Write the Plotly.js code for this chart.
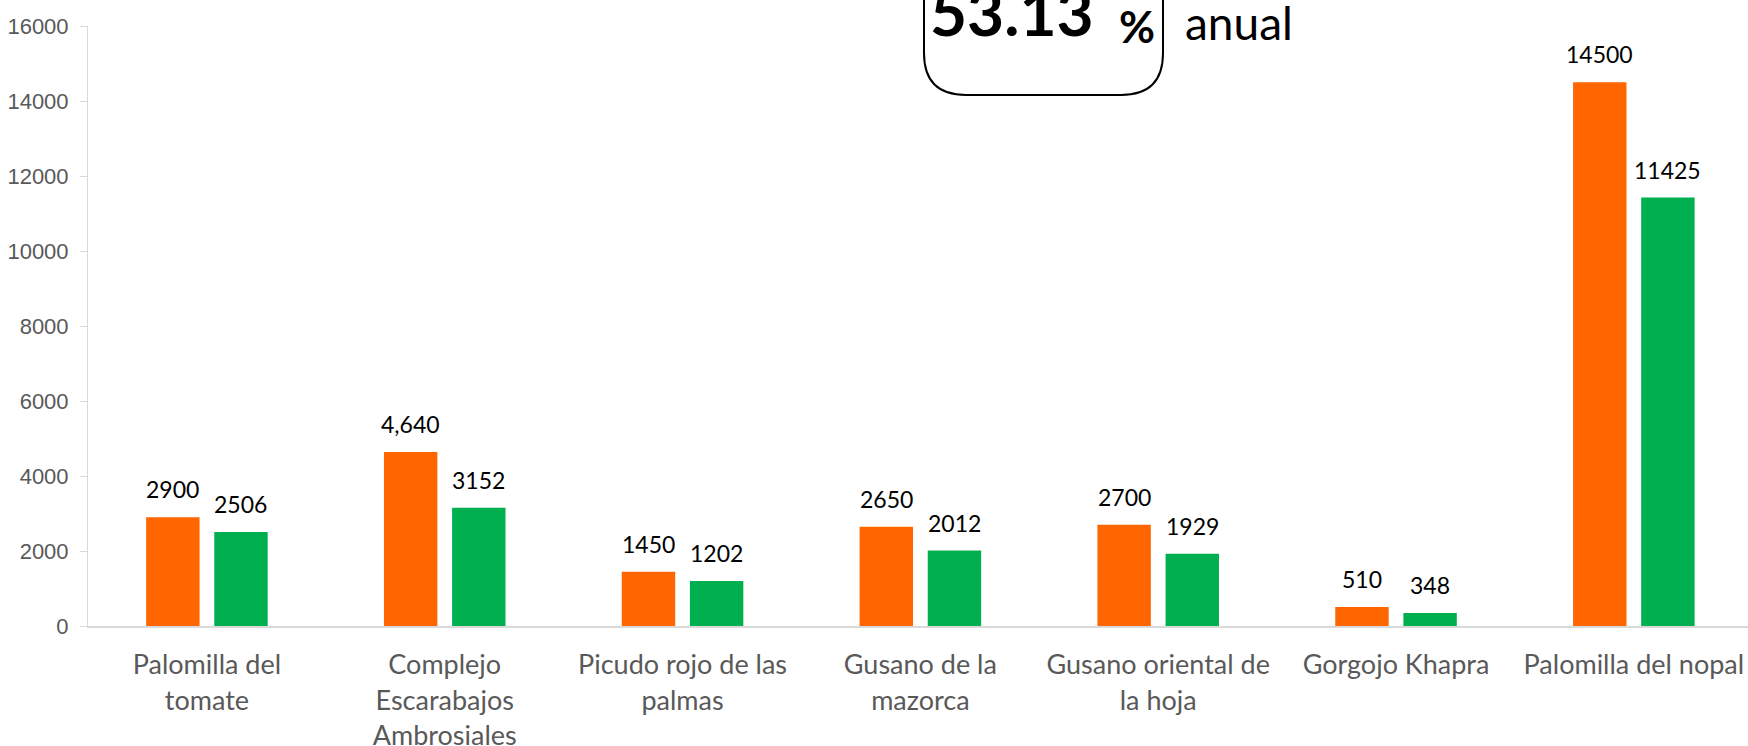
<!DOCTYPE html>
<html>
<head>
<meta charset="utf-8">
<script src="https://cdn.plot.ly/plotly-3.0.1.min.js"></script>
<style>
  html, body { margin: 0; padding: 0; background: #fff; overflow: hidden; }
  #plot { width: 1748px; height: 746px; }
</style>
</head>
<body>
<div id="plot"></div>
<script>
// categories and values
const categories = [
  'Palomilla del<br>tomate',
  'Complejo<br>Escarabajos<br>Ambrosiales',
  'Picudo rojo de las<br>palmas',
  'Gusano de la<br>mazorca',
  'Gusano oriental de<br>la hoja',
  'Gorgojo Khapra',
  'Palomilla del nopal'
];
const orangeValues = [2900, 4640, 1450, 2650, 2700, 510, 14500];
const greenValues = [2506, 3152, 1202, 2012, 1929, 348, 11425];
const orangeLabels = ['2900', '4,640', '1450', '2650', '2700', '510', '14500'];
const greenLabels = ['2506', '3152', '1202', '2012', '1929', '348', '11425'];
const yTicks = [0, 2000, 4000, 6000, 8000, 10000, 12000, 14000, 16000];
const yTickText = ['0', '2000', '4000', '6000', '8000', '10000', '12000', '14000', '16000'];

//------------------------------------------------------------------------------

const W = 1748, H = 746;
const margin = {l: 88, r: 0, t: 26, b: 120};
const plotW = W - margin.l - margin.r, plotH = H - margin.t - margin.b;

/** pixel position -> paper coordinates */
const px = x => (x - margin.l) / plotW;
const py = y => (H - margin.b - y) / plotH;

const labelFont = {family: 'Lato, sans-serif', size: 23, color: '#000000'};
const slot = 34;

const traces = [
  {type: 'bar', x: categories, y: orangeValues, name: 'orange',
   marker: {color: '#FF6600'}, hoverinfo: 'none'},
  {type: 'bar', x: categories, y: greenValues, name: 'green',
   marker: {color: '#00B050'}, hoverinfo: 'none'},
];

const annotations = [];
categories.forEach((c, i) => {
  annotations.push({x: c, y: orangeValues[i], text: orangeLabels[i], xshift: -slot,
    yshift: 12, yanchor: 'bottom', showarrow: false, font: labelFont});
  annotations.push({x: c, y: greenValues[i], text: greenLabels[i], xshift: slot,
    yshift: 12, yanchor: 'bottom', showarrow: false, font: labelFont});
});

// the rounded box at the top, cut off by the picture edge
annotations.push(
  {xref: 'paper', yref: 'paper', x: px(928), y: py(52), xanchor: 'left', yanchor: 'bottom',
   text: '<b>53.13</b>', showarrow: false,
   font: {family: 'Lato, sans-serif', size: 64, color: '#000000'}},
  {xref: 'paper', yref: 'paper', x: px(1117), y: py(54), xanchor: 'left', yanchor: 'bottom',
   text: '<b>%</b>', showarrow: false,
   font: {family: 'Lato, sans-serif', size: 44, color: '#000000'}},
  {xref: 'paper', yref: 'paper', x: px(1183), y: py(52), xanchor: 'left', yanchor: 'bottom',
   text: 'anual', showarrow: false,
   font: {family: 'Lato, sans-serif', size: 46, color: '#000000'}}
);

const L = 924, R = 1163, B = 95, T = -30, r = 42;
const boxPath =
  `M ${px(L)},${py(T)} L ${px(L)},${py(B - r)} Q ${px(L)},${py(B)} ${px(L + r)},${py(B)} ` +
  `L ${px(R - r)},${py(B)} Q ${px(R)},${py(B)} ${px(R)},${py(B - r)} L ${px(R)},${py(T)}`;

const layout = {
  width: W,
  height: H,
  margin: margin,
  paper_bgcolor: '#ffffff',
  plot_bgcolor: '#ffffff',
  showlegend: false,
  barmode: 'group',
  bargap: 0.427,
  bargroupgap: 0.216,
  xaxis: {
    range: [-0.5, 6.48],
    showgrid: false,
    showline: true,
    linecolor: '#d9d9d9',
    linewidth: 2,
    ticks: '',
    automargin: false,
    tickfont: {family: 'Lato, sans-serif', size: 27, color: '#595959'},
    ticklabelstandoff: 14,
  },
  yaxis: {
    range: [0, 16000],
    tickvals: yTicks,
    ticktext: yTickText,
    showgrid: false,
    zeroline: false,
    showline: true,
    linecolor: '#d9d9d9',
    linewidth: 1,
    ticks: 'outside',
    ticklen: 7,
    tickcolor: '#d9d9d9',
    automargin: false,
    tickfont: {family: '"Liberation Sans", Arial, sans-serif', size: 22, color: '#595959'},
    ticklabelstandoff: 7,
  },
  annotations: annotations,
  shapes: [
    {type: 'path', xref: 'paper', yref: 'paper', path: boxPath,
     line: {color: '#000000', width: 2}},
  ],
};

Plotly.newPlot('plot', traces, layout, {staticPlot: true});
</script>
</body>
</html>
